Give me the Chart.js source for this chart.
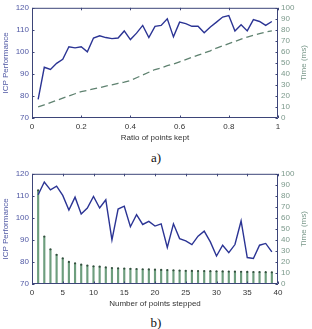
<!DOCTYPE html>
<html><head><meta charset="utf-8">
<script src="https://cdn.jsdelivr.net/npm/chart.js@4.4.1/dist/chart.umd.min.js"></script>
<style>
html,body{margin:0;padding:0;background:#fff;width:312px;height:329px;overflow:hidden;}
.wrap{position:absolute;left:0;width:312px;height:148px;}
.cap{position:absolute;left:0;width:312px;text-align:center;font-family:"Liberation Serif","DejaVu Serif",serif;font-size:13px;line-height:13px;color:#111;}
</style></head><body>
<div class="wrap" style="top:0"><canvas id="ca"></canvas></div>
<div class="cap" style="top:151px">a)</div>
<div class="wrap" style="top:166px"><canvas id="cb"></canvas></div>
<div class="cap" style="top:316px">b)</div>
<script>
// ---- data ----
const ratioKept = [0.025,0.05,0.075,0.1,0.125,0.15,0.175,0.2,0.225,0.25,0.275,0.3,0.325,0.35,0.375,0.4,0.425,0.45,0.475,0.5,0.525,0.55,0.575,0.6,0.625,0.65,0.675,0.7,0.725,0.75,0.775,0.8,0.825,0.85,0.875,0.9,0.925,0.95,0.975];
const icpA = [78.5,93,92,94.8,96.6,102.3,101.8,102.3,100,106.3,107.3,106.5,106,106.3,109.5,105.6,108.5,112,106.5,111.6,112,115,106.8,113.5,112.8,111.6,111.6,108.7,111.3,113.5,115.8,116.5,109.5,112.3,109.5,114.6,113.8,112,113.8];
const timeA = [10,12,14,16,18,20,22,24,25,26.5,27.5,29,30,31.5,32.5,34,36.5,39,41.5,44,45.5,47.5,49,51,53,55,57,59,61,63.5,65.5,67.5,69.5,71.5,73.5,75,76.5,78,79];
const stepsB = [1,2,3,4,5,6,7,8,9,10,11,12,13,14,15,16,17,18,19,20,21,22,23,24,25,26,27,28,29,30,31,32,33,34,35,36,37,38,39];
const icpB = [110.5,116.3,112.7,114.4,110.2,103.6,109.4,101.8,104.5,109.7,104.5,108.2,90,104,105.3,96,101.5,97,98.4,96.3,97.3,86.6,97.3,90.6,89.6,87.9,91.7,94,89.1,82.7,87.6,84.2,87.9,98.6,82,81.6,87.6,88.4,84.6];
const timeB = [85,43,31.5,26.5,23.3,20,18.8,17.5,16.7,16,15.7,15,14.5,14.2,14,13.8,13.6,13.4,13.2,13,12.8,12.6,12.4,12.2,12,11.9,11.8,11.7,11.6,11.5,11.4,11.3,11.2,11.1,11,10.9,10.8,10.7,10.6];
const xTicksA = [0,0.2,0.4,0.6,0.8,1];
const xTicksB = [0,5,10,15,20,25,30,35,40];
const icpTicks = [70,80,90,100,110,120];
const timeTicks = [0,10,20,30,40,50,60,70,80,90,100];
const titleA = 'Ratio of points kept';
const titleB = 'Number of points stepped';

const FONT = {family:'"Liberation Sans", Arial, sans-serif', size:8};
const C = {icp:'#2b3494', icpLabel:'#5058a4', time:'#5f8270', timeLabel:'#7b998b',
           stem:'#6e9e7e', stemTop:'#34503f', box:'#3d4578', xLabel:'#333333'};

const pts = (xs, ys) => xs.map((x,i)=>({x:x, y:ys[i]}));
const setTicks = list => s => { s.ticks = list.map(v=>({value:v})); };

const framePlugin = {
  id:'frame',
  afterDatasetsDraw(chart){
    const {ctx, chartArea:a, scales} = chart;
    ctx.save();
    ctx.strokeStyle = C.box; ctx.lineWidth = 1;
    const L = 2.5;
    ctx.beginPath();
    ctx.rect(a.left+0.5, a.top+0.5, a.right-a.left-1, a.bottom-a.top-1);
    scales.x.ticks.forEach(t=>{
      const p = Math.round(scales.x.getPixelForValue(t.value))+0.5;
      ctx.moveTo(p, a.bottom); ctx.lineTo(p, a.bottom-L);
      ctx.moveTo(p, a.top); ctx.lineTo(p, a.top+L);
    });
    scales.y.ticks.forEach(t=>{
      const p = Math.round(scales.y.getPixelForValue(t.value))+0.5;
      ctx.moveTo(a.left, p); ctx.lineTo(a.left+L, p);
    });
    scales.y1.ticks.forEach(t=>{
      const p = Math.round(scales.y1.getPixelForValue(t.value))+0.5;
      ctx.moveTo(a.right, p); ctx.lineTo(a.right-L, p);
    });
    ctx.stroke();
    // right axis title, reading bottom to top
    ctx.translate(chart.width-8, (a.top+a.bottom)/2);
    ctx.rotate(-Math.PI/2);
    ctx.font = FONT.size+'px '+FONT.family;
    ctx.fillStyle = C.timeLabel; ctx.textAlign='center'; ctx.textBaseline='middle';
    ctx.fillText('Time (ms)', 0, 0);
    ctx.restore();
  }
};

function makeChart(id, xTicks, xTitle, datasets){
  return new Chart(document.getElementById(id), {
    type:'line',
    data:{datasets:datasets},
    plugins:[framePlugin],
    options:{
      responsive:true, maintainAspectRatio:false, animation:false,
      layout:{padding:{top:7,left:0,right:0,bottom:0}},
      plugins:{legend:{display:false}, tooltip:{enabled:false}},
      scales:{
        x:{type:'linear', offset:false, min:xTicks[0], max:xTicks[xTicks.length-1],
           afterBuildTicks:setTicks(xTicks), afterFit:s=>{s.height=30;},
           grid:{display:false, drawTicks:false, offset:false}, border:{display:false},
           ticks:{font:FONT, color:C.xLabel, padding:4, autoSkip:false, maxRotation:0, callback:v=>String(v)},
           title:{display:true, text:xTitle, font:FONT, color:C.xLabel, padding:{top:0,bottom:5}}},
        y:{position:'left', min:icpTicks[0], max:icpTicks[icpTicks.length-1],
           afterBuildTicks:setTicks(icpTicks), afterFit:s=>{s.width=32;},
           grid:{display:false, drawTicks:false}, border:{display:false},
           ticks:{font:FONT, color:C.icpLabel, padding:3, autoSkip:false},
           title:{display:true, text:'ICP Performance', font:FONT, color:C.icpLabel, padding:{top:1,bottom:0}}},
        y1:{position:'right', min:timeTicks[0], max:timeTicks[timeTicks.length-1],
           afterBuildTicks:setTicks(timeTicks), afterFit:s=>{s.width=34;},
           grid:{display:false, drawTicks:false}, border:{display:false},
           ticks:{font:FONT, color:C.timeLabel, padding:3, autoSkip:false},
           title:{display:false}}
      }
    }
  });
}

makeChart('ca', xTicksA, titleA, [
  {label:'Time', data:pts(ratioKept, timeA), yAxisID:'y1', borderColor:C.time, borderWidth:1.3,
   borderDash:[7,4], pointRadius:0, fill:false, tension:0},
  {label:'ICP', data:pts(ratioKept, icpA), yAxisID:'y', borderColor:C.icp, borderWidth:1.4,
   pointRadius:0, fill:false, tension:0}
]);

makeChart('cb', xTicksB, titleB, [
  {type:'bar', label:'Time', data:pts(stepsB, timeB), yAxisID:'y1', backgroundColor:C.stem,
   barThickness:1.5, grouped:false, order:3},
  {label:'TimeTop', data:pts(stepsB, timeB), yAxisID:'y1', showLine:false, pointRadius:1.1,
   pointBackgroundColor:C.stemTop, pointBorderWidth:0, order:2},
  {label:'ICP', data:pts(stepsB, icpB), yAxisID:'y', borderColor:C.icp, borderWidth:1.4,
   pointRadius:0, fill:false, tension:0, order:1}
]);
</script>
</body></html>
